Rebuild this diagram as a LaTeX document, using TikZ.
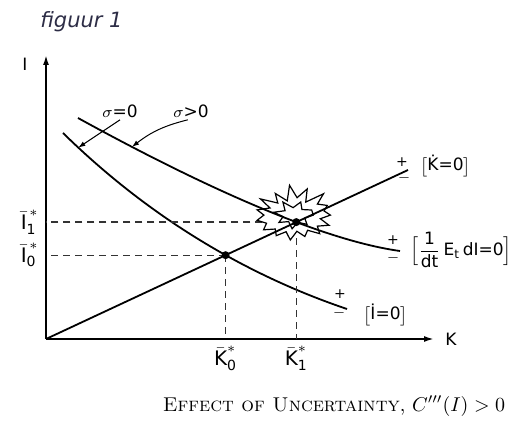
\documentclass[tikz,border=0pt]{standalone}
\usepackage{amsmath}
\usepackage{fontspec}
\setsansfont{DejaVu Sans}
\usetikzlibrary{arrows.meta,positioning,intersections,calc}
\definecolor{titlegray}{RGB}{45,45,70}

\begin{document}
\begin{tikzpicture}[x=0.5pt, y=-0.5pt,
  every node/.style={font=\sffamily\fontsize{8.5}{10}\selectfont, inner sep=1pt},
  axis/.style={line width=0.9pt, -{Latex[length=5pt,width=3pt]}},
  curve/.style={line width=0.9pt},
  guide/.style={line width=0.6pt, black!80, dash pattern=on 3.5pt off 2.5pt},
  pointer/.style={line width=0.5pt, -{Latex[length=3.5pt,width=2.5pt]}},
  eqpoint/.style={circle, fill, inner sep=0pt, minimum size=4pt},
  sign/.style={font=\sffamily\fontsize{7}{8}\selectfont, inner sep=0pt},
  steady/.style={font=\sffamily\fontsize{10}{12}\selectfont, inner sep=0.5pt},
  cloud/.style={line width=0.6pt, line join=miter}
]
\useasboundingbox (0,0) rectangle (524,421);

\node[font=\sffamily\itshape\fontsize{10.5}{12}\selectfont, text=titlegray, anchor=west] (title) at (38,22) {figuur 1};

%========== AXES ==========
\coordinate (O) at (46,339);
\coordinate (Itop) at (46,55);
\coordinate (Kend) at (434,339);
\draw[axis] (O) -- (Itop);
\draw[axis] (O) -- (Kend);
\node (Ilab) at (25,64) {I};
\node (Klab) at (451,339) {K};

%========== CURVES ==========
\coordinate (Kdot) at (408,170);
\coordinate (Ia) at (63,133);
\coordinate (Ib) at (347,309);
\coordinate (Ea) at (78,118);
\coordinate (Eb) at (400,251);

\draw[curve, name path=kdot] (O) -- (Kdot);
\draw[curve, name path=idot] (Ia) .. controls (165,233) and (270,283) .. (Ib)
  coordinate[pos=0.05] (tipA);
\draw[curve, name path=ecurve] (Ea) .. controls (198,184) and (320,240) .. (Eb)
  coordinate[pos=0.15] (tipB);

\path[name intersections={of=kdot and idot, by=S0}];
\path[name intersections={of=kdot and ecurve, by=S1}];

%========== EQUILIBRIA ==========
\draw[guide] (S0) -- (S0 -| O);
\draw[guide] (S0) -- (S0 |- O);
\draw[guide, shorten <=17pt] (S1) -- (S1 -| O);
\draw[guide, shorten <=8pt] (S1) -- (S1 |- O);
\node[eqpoint] (E0) at (S0) {};
\node[eqpoint] (E1) at (S1) {};

\node[steady, left=3pt] (I1lab) at (S1 -| O) {$\bar{\textsf{I}}^{\,\ast}_{\textsf{1}}$};
\node[steady, left=3pt] (I0lab) at (S0 -| O) {$\bar{\textsf{I}}^{\,\ast}_{\textsf{0}}$};
\node[steady, below=3pt] (K0lab) at (S0 |- O) {$\bar{\textsf{K}}^{\ast}_{\textsf{0}}$};
\node[steady, below=3pt] (K1lab) at (S1 |- O) {$\bar{\textsf{K}}^{\ast}_{\textsf{1}}$};

% the burst round the new equilibrium
\begin{scope}[shift={($(S1)+(-2,-7)$)}]
  \draw[cloud] (38*0.95,0)
    \foreach \a/\r in {12/0.7, 24/1.0, 36/0.75, 48/1.0, 60/0.7, 72/0.9, 84/0.65,
      96/1.0, 108/0.7, 120/0.95, 132/0.75, 144/1.0, 156/0.8, 168/1.0, 180/0.8,
      192/1.0, 204/0.7, 216/1.1, 228/0.65, 240/1.0, 252/0.6, 264/1.2, 276/0.7,
      288/1.1, 300/0.6, 312/1.15, 324/0.75, 336/0.95, 348/0.8}
    { -- ({38*\r*cos(\a)},{25*\r*sin(\a)}) } -- cycle;
  \draw[cloud] (19,0)
    \foreach \a/\r in {24/0.3, 48/0.5, 72/0.3, 96/0.55, 120/0.3, 144/0.5, 168/0.3,
      192/0.55, 216/0.3, 240/0.6, 264/0.3, 288/0.55, 312/0.3, 336/0.5}
    { -- ({38*\r*cos(\a)},{25*\r*sin(\a)}) } -- cycle;
\end{scope}

%========== LABELS ==========
\node[sign] (kplus)  at ($(Kdot)+(-6,-8)$) {+};
\node[sign] (kminus) at ($(Kdot)+(-4,8)$) {$-$};
\node[anchor=west] (kdotlab) at ($(Kdot)+(10,-4)$) {$\bigl[$\.{K}=0$\bigr]$};

\node[sign] (eplus)  at ($(Eb)+(-7,-11)$) {+};
\node[sign] (eminus) at ($(Eb)+(-7,7)$) {$-$};
\node[anchor=west] (elab) at ($(Eb)+(8,-1)$)
  {$\Bigl[\dfrac{\textsf{1}}{\textsf{dt}}\,\textsf{E}_{\textsf{t}}\,\textsf{dI=0}\Bigr]$};

\node[sign] (iplus)  at ($(Ib)+(-7,-15)$) {+};
\node[sign] (iminus) at ($(Ib)+(-8,4)$) {$-$};
\node[anchor=west] (ilab) at ($(Ib)+(14,6)$) {$\bigl[$İ=0$\bigr]$};

\node (sig0) at (120,111) {$\sigma$=0};
\node (sig1) at (191,111) {$\sigma$>0};
\draw[pointer] (sig0.south) -- (tipA);
\draw[pointer] (sig1.250) to[bend right=12] (tipB);

\node[font=\rmfamily\fontsize{10}{12}\selectfont] (caption) at (334,406)
  {\textsc{Effect of Uncertainty}, $C'''(I)>0$};

\end{tikzpicture}
\end{document}
